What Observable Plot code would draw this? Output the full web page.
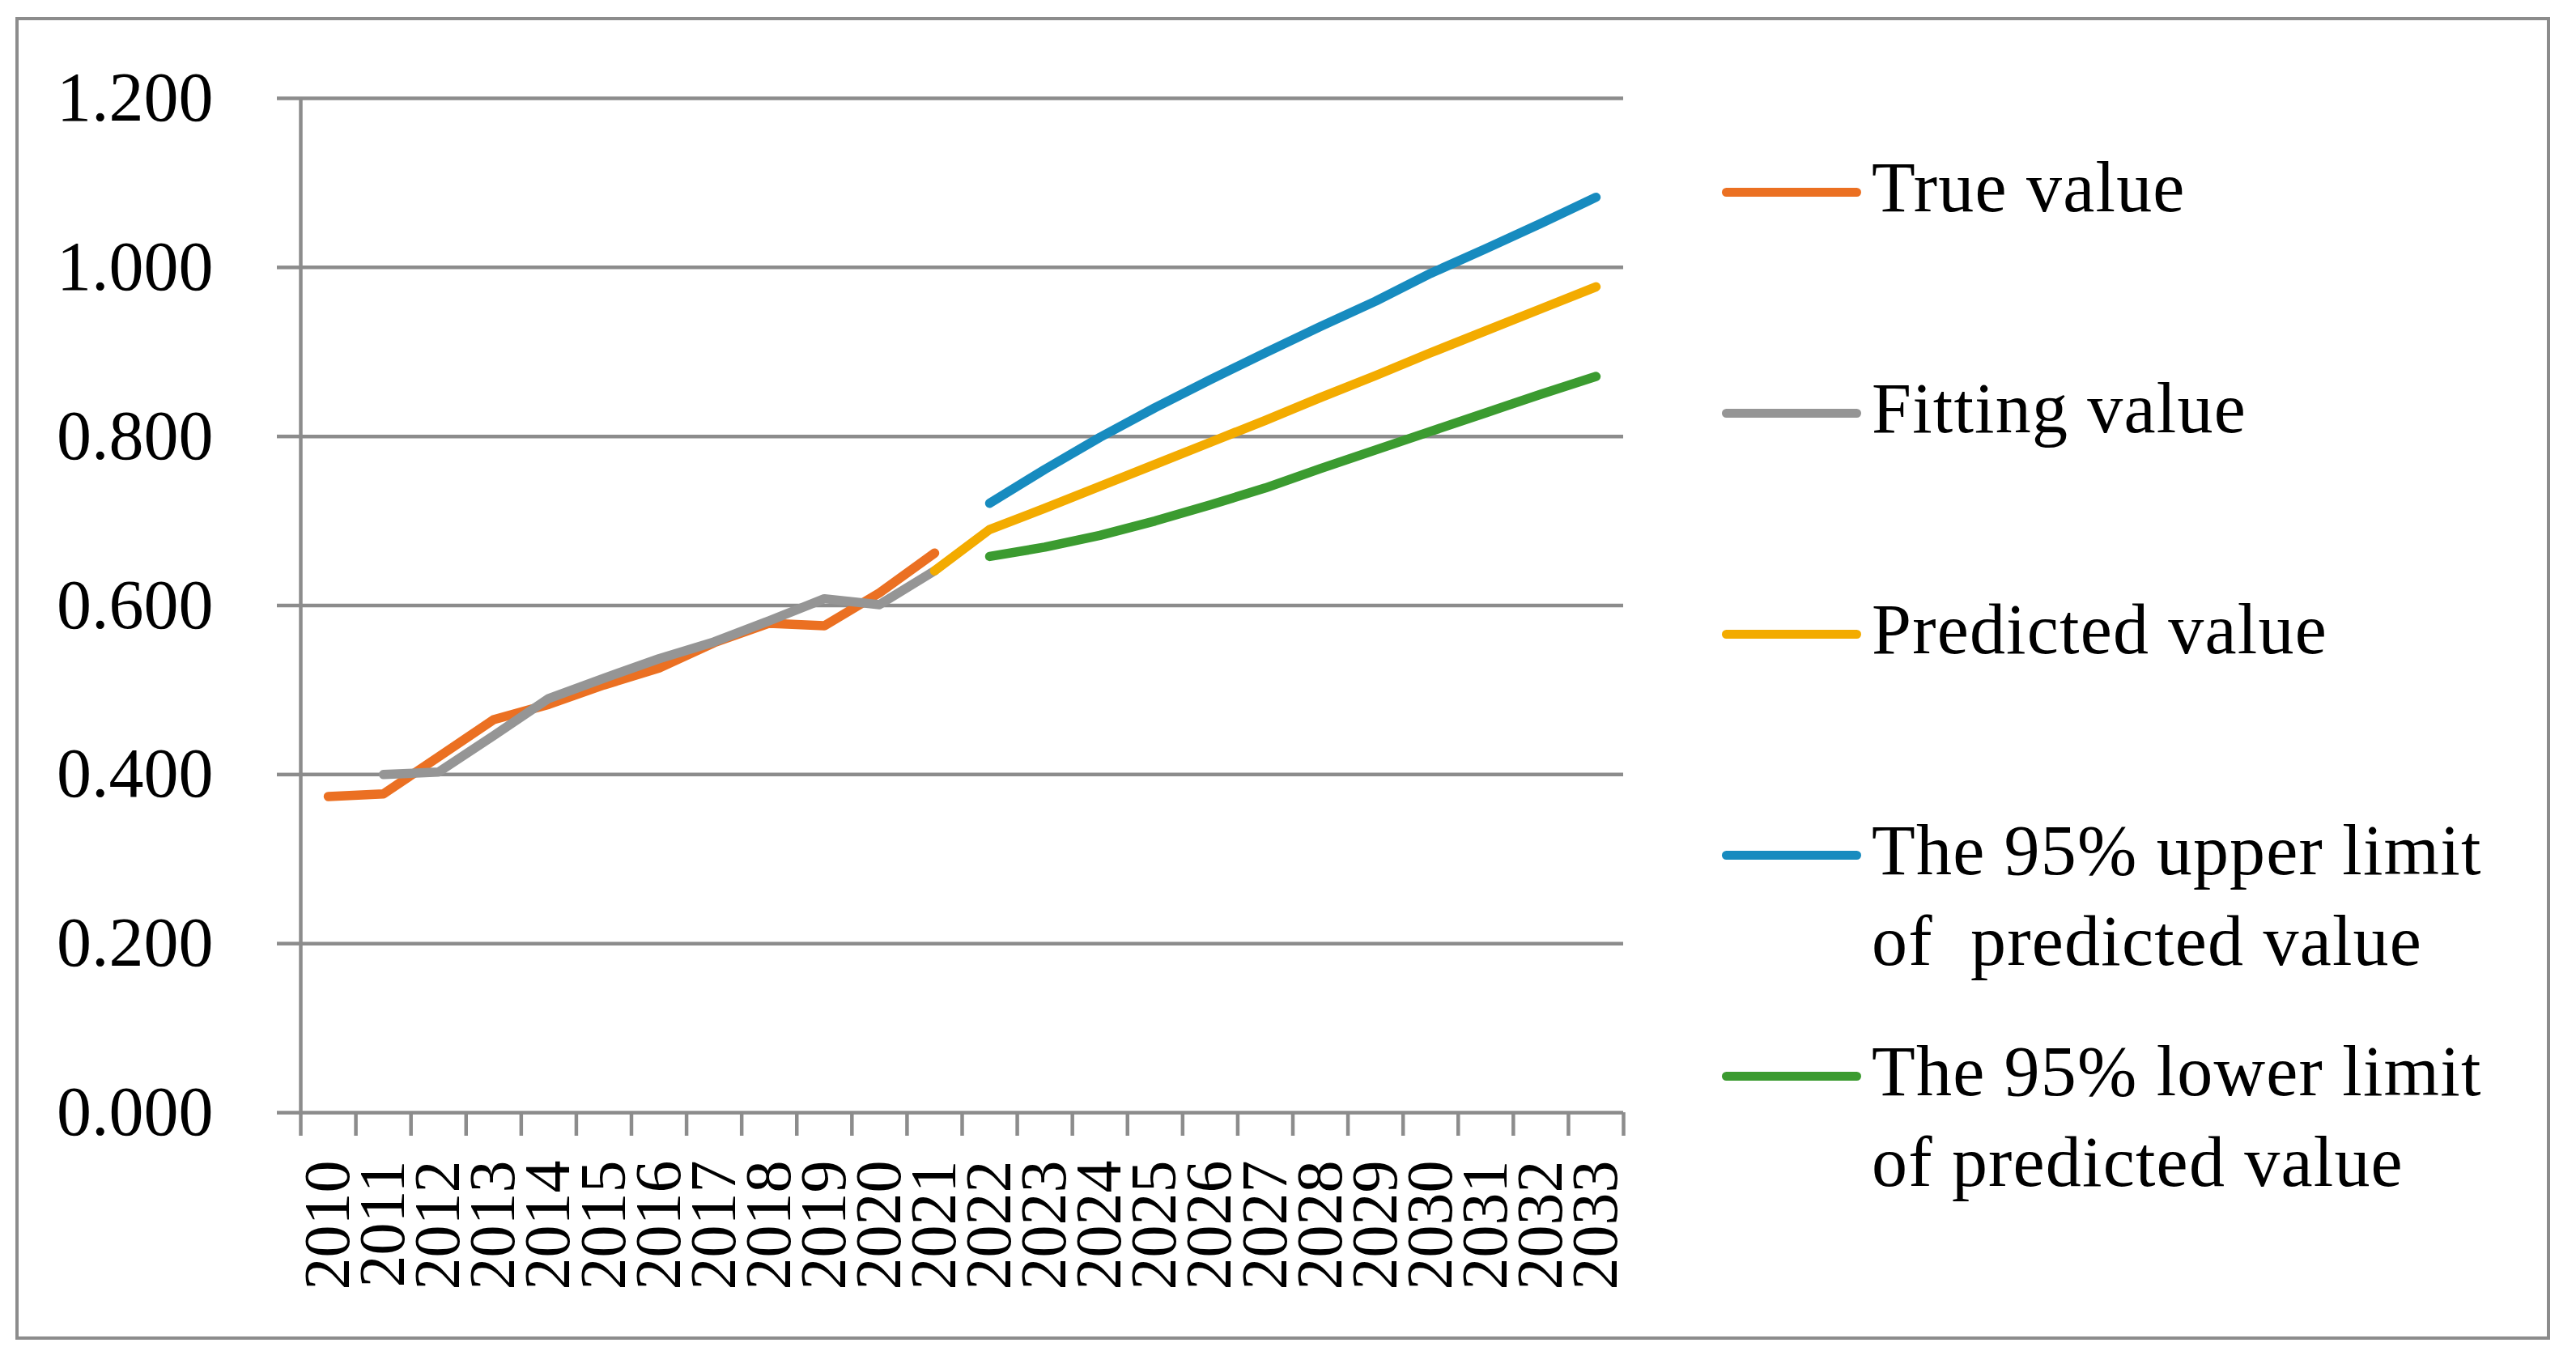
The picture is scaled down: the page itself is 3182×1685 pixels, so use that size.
<!DOCTYPE html>
<html><head><meta charset="utf-8">
<script src="https://cdn.jsdelivr.net/npm/d3@7"></script>
<script src="https://cdn.jsdelivr.net/npm/@observablehq/plot@0.6"></script>
<style>
html,body{margin:0;padding:0;background:#fff;}
#wrap{position:relative;width:3182px;height:1685px;overflow:hidden;font-family:"Liberation Serif",serif;}
#frame{position:absolute;left:19px;top:21px;width:3131px;height:1634px;border:4px solid #8c8c8c;box-sizing:border-box;}
#chart{position:absolute;left:0;top:0;}
#legend{position:absolute;left:0;top:0;width:3182px;height:1685px;}
.item{position:absolute;left:2312px;font-size:88px;line-height:112px;letter-spacing:1.2px;white-space:pre;color:#000;}
.swatch{position:absolute;left:2127px;width:172px;height:11px;border-radius:6px;}
</style></head><body>
<div id="wrap"><div id="chart"></div><div id="frame"></div><div id="legend"></div></div>
<script>
// ---- data ----
const years = [2010,2011,2012,2013,2014,2015,2016,2017,2018,2019,2020,2021,2022,2023,2024,2025,2026,2027,2028,2029,2030,2031,2032,2033];
const yTicks = [0, 0.2, 0.4, 0.6, 0.8, 1.0, 1.2];

const trueYears  = [2010,2011,2012,2013,2014,2015,2016,2017,2018,2019,2020,2021];
const trueValues = [0.374,0.377,0.421,0.465,0.483,0.506,0.526,0.556,0.579,0.576,0.615,0.662];

const fitYears  = [2011,2012,2013,2014,2015,2016,2017,2018,2019,2020,2021];
const fitValues = [0.400,0.403,0.446,0.490,0.514,0.537,0.557,0.582,0.608,0.601,0.641];

const predYears  = [2021,2022,2023,2024,2025,2026,2027,2028,2029,2030,2031,2032,2033];
const predValues = [0.641,0.690,0.715,0.741,0.767,0.793,0.819,0.846,0.872,0.899,0.925,0.951,0.977];

const limitYears  = [2022,2023,2024,2025,2026,2027,2028,2029,2030,2031,2032,2033];
const upperValues = [0.721,0.761,0.799,0.834,0.867,0.899,0.930,0.960,0.993,1.022,1.052,1.083];
const lowerValues = [0.658,0.669,0.683,0.700,0.719,0.739,0.762,0.784,0.806,0.828,0.850,0.871];

const seriesNames = [
  ["True value"],
  ["Fitting value"],
  ["Predicted value"],
  ["The 95% upper limit", "of  predicted value"],
  ["The 95% lower limit", "of predicted value"]
];
const seriesColors = ["#EB7022", "#959595", "#F3AB00", "#178BBF", "#3B9B30"];
// ---------------

const gridColor = "#8c8c8c";
const toRows = (xs, vs) => xs.map((x, i) => ({year: x, value: vs[i]}));
const seriesData = [
  toRows(trueYears, trueValues),
  toRows(fitYears, fitValues),
  toRows(predYears, predValues),
  toRows(limitYears, upperValues),
  toRows(limitYears, lowerValues)
];
const boundaries = years.map(y => y - 0.5).concat([years[years.length - 1] + 0.5]);

const lineOpts = (c) => ({x: "year", y: "value", stroke: c, strokeWidth: 11.5, strokeLinecap: "round", strokeLinejoin: "round"});

const chart = Plot.plot({
  width: 2040,
  height: 1685,
  marginLeft: 371,
  marginRight: 35,
  marginTop: 121,
  marginBottom: 311,
  style: {fontFamily: '"Liberation Serif", serif', fontSize: "86px", color: "#000", background: "transparent", overflow: "visible"},
  x: {domain: [boundaries[0], boundaries[boundaries.length - 1]], label: null},
  y: {domain: [yTicks[0], yTicks[yTicks.length - 1]], label: null},
  marks: [
    Plot.gridY(yTicks, {stroke: gridColor, strokeOpacity: 1, strokeWidth: 4.5}),
    Plot.axisY(yTicks, {label: null, tickSize: 29, tickPadding: 79, stroke: gridColor, strokeWidth: 4.5, strokeOpacity: 1, fontSize: 86, tickFormat: d => d.toFixed(3)}),
    Plot.ruleX([boundaries[0]], {y1: yTicks[0], y2: yTicks[yTicks.length - 1], stroke: gridColor, strokeWidth: 4.5}),
    Plot.axisX(boundaries, {label: null, tickSize: 29, tickPadding: 0, stroke: gridColor, strokeWidth: 4.5, strokeOpacity: 1, tickFormat: () => ""}),
    Plot.axisX(years, {label: null, tickSize: 0, tickPadding: 59, tickRotate: -90, fontSize: 80, tickFormat: d => String(d)}),
    ...seriesData.map((d, i) => Plot.line(d, lineOpts(seriesColors[i])))
  ]
});
document.getElementById("chart").appendChild(chart);

// legend
const legend = document.getElementById("legend");
const baseline0 = 262, step = 273;
seriesNames.forEach((lines, i) => {
  const base = baseline0 + i * step;
  const sw = document.createElement("div");
  sw.className = "swatch";
  sw.style.top = (base - 25 - 5.5) + "px";
  sw.style.background = seriesColors[i];
  legend.appendChild(sw);
  const t = document.createElement("div");
  t.className = "item";
  t.style.top = (base - 86) + "px";
  t.textContent = lines.join("\n");
  legend.appendChild(t);
});
</script>
</body></html>
